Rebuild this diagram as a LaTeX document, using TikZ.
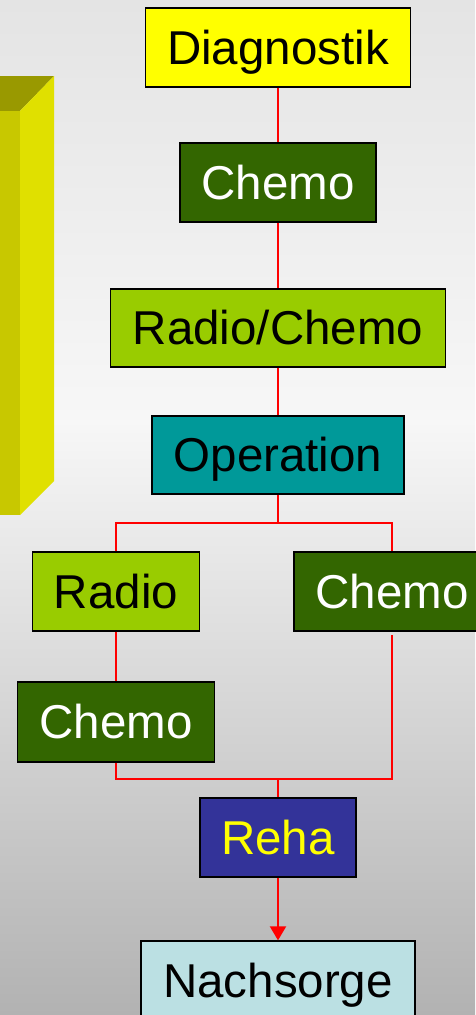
\documentclass[tikz,border=0pt]{standalone}
\usepackage{fontspec}
\setmainfont{Liberation Sans}
\usetikzlibrary{arrows.meta}
\definecolor{bgtop}{HTML}{E4E4E4}
\definecolor{bgmid}{HTML}{F7F7F7}
\definecolor{bgbot}{HTML}{B2B2B2}
\definecolor{cyell}{HTML}{FFFF00}
\definecolor{cdgreen}{HTML}{336600}
\definecolor{clgreen}{HTML}{99CC00}
\definecolor{cteal}{HTML}{009999}
\definecolor{cblue}{HTML}{333399}
\definecolor{ccyan}{HTML}{BBE0E3}
\definecolor{barfront}{HTML}{C8C800}
\definecolor{bartop}{HTML}{999900}
\definecolor{barside}{HTML}{E0E000}
\tikzset{
  stepbox/.style={draw=black, line width=1.3pt, inner sep=0pt, text height=33.6pt, text depth=0pt,
    font=\fontsize{47.5}{56}\selectfont, align=center},
  link/.style={draw=red, line width=2pt},
}
\begin{document}
\begin{tikzpicture}[x=1pt,y=-1pt]
\useasboundingbox (0,0) rectangle (475,1015);
% background
\shade[top color=bgtop, bottom color=bgmid] (0,0) rectangle (475,420);
\shade[top color=bgmid, bottom color=bgbot] (0,420) rectangle (475,1015);
% 3D bar
\fill[bartop] (0,76) -- (54,76) -- (20,111) -- (0,111) -- cycle;
\fill[barfront] (0,111) rectangle (20,515);
\fill[barside] (20,111) -- (54,76) -- (54,481) -- (20,515) -- cycle;
% boxes
\node[stepbox, fill=cyell, minimum width=265pt, minimum height=79pt] (diag) at (278,47.5) {Diagnostik};
\node[stepbox, fill=cdgreen, text=white, minimum width=196pt, minimum height=79pt] (chemoA) at (278,182.5) {Chemo};
\node[stepbox, fill=clgreen, minimum width=335pt, minimum height=78pt] (radchem) at (278,328) {Radio/Chemo};
\node[stepbox, fill=cteal, minimum width=252pt, minimum height=78pt] (op) at (278,455) {Operation};
\node[stepbox, fill=clgreen, minimum width=167pt, minimum height=79pt] (radio) at (116,591.5) {Radio};
\node[stepbox, fill=cdgreen, text=white, minimum width=196pt, minimum height=79pt] (chemoR) at (392,591.5) {Chemo};
\node[stepbox, fill=cdgreen, text=white, minimum width=197pt, minimum height=80pt] (chemoL) at (116,722) {Chemo};
\node[stepbox, fill=cblue, text=cyell, minimum width=156pt, minimum height=79pt] (reha) at (278,837.5) {Reha};
\node[stepbox, fill=ccyan, minimum width=274pt, minimum height=79pt] (nach) at (278,980.5) {Nachsorge};
% connectors
\coordinate (split) at (278,523);
\coordinate (join) at (278,779);
\draw[link] (diag) -- (chemoA);
\draw[link] (chemoA) -- (radchem);
\draw[link] (radchem) -- (op);
\draw[link] (op.south) -- (split);
\draw[link] (radio.north) |- (split) -| (chemoR.north);
\draw[link] (radio) -- (chemoL);
\draw[link, shorten >=3pt] (chemoL.south) |- (join) -| (chemoR.south);
\draw[link] (join) -- (reha.north);
\draw[link, -{Triangle[width=16pt,length=14pt]}, red] (reha.south) -- (nach.north);
\end{tikzpicture}
\end{document}
